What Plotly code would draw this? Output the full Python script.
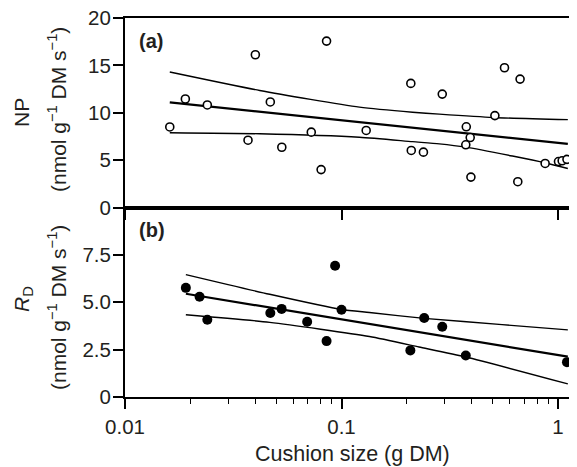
import plotly.graph_objects as go

# ---- data ----
np_x = [0.0161, 0.0190, 0.0240, 0.0370, 0.0400, 0.0469, 0.0530, 0.0725, 0.0805, 0.0853,
        0.130, 0.209, 0.210, 0.239, 0.292, 0.377, 0.393, 0.375, 0.396, 0.511,
        0.566, 0.652, 0.668, 0.872, 1.005, 1.045, 1.100]
np_y = [8.5, 11.45, 10.82, 7.1, 16.12, 11.14, 6.36, 7.95, 4.0, 17.56,
        8.13, 13.1, 6.02, 5.84, 11.97, 8.52, 7.38, 6.62, 3.21, 9.70,
        14.75, 2.72, 13.55, 4.65, 4.85, 4.93, 5.08]

rd_x = [0.0191, 0.0221, 0.0240, 0.0469, 0.0529, 0.0694, 0.0853, 0.0934, 0.100,
        0.208, 0.241, 0.292, 0.375, 1.10]
rd_y = [5.76, 5.29, 4.08, 4.43, 4.65, 3.97, 2.95, 6.93, 4.6,
        2.46, 4.17, 3.71, 2.19, 1.84]

np_fit_x = [0.0161, 1.11]
np_fit_y = [11.1, 6.72]
np_up_x = [0.0161, 0.0419, 0.121, 0.213, 0.283, 0.5, 1.11]
np_up_y = [14.3, 12.35, 10.59, 10.05, 9.85, 9.5, 9.27]
np_lo_x = [0.0161, 0.0419, 0.121, 0.213, 0.283, 0.375, 0.616, 0.877, 1.11]
np_lo_y = [7.89, 7.78, 7.42, 6.95, 6.72, 6.37, 5.43, 4.7, 4.12]

rd_fit_x = [0.0191, 1.11]
rd_fit_y = [5.45, 2.13]
rd_up_x = [0.0191, 0.0466, 0.1, 0.1346, 0.241, 0.552, 1.11]
rd_up_y = [6.46, 5.42, 4.62, 4.46, 4.15, 3.82, 3.54]
rd_lo_x = [0.0191, 0.0466, 0.1346, 0.228, 0.375, 1.11]
rd_lo_y = [4.34, 3.94, 3.19, 2.64, 2.11, 0.69]

x_ticks = [0.01, 0.1, 1]
x_ticktext = ["0.01", "0.1", "1"]
x_minor = [0.02, 0.03, 0.04, 0.05, 0.06, 0.07, 0.08, 0.09,
           0.2, 0.3, 0.4, 0.5, 0.6, 0.7, 0.8, 0.9]
np_ticks = [0, 5, 10, 15, 20]
rd_ticks = [0, 2.5, 5, 7.5]
rd_ticktext = ["0", "2.5", "5.0", "7.5"]

INK = "#231f20"
FONT = "Liberation Sans, Arial, sans-serif"
TICK_SIZE = 20.5

fig = go.Figure()

line_thin = dict(color="black", width=1.4)
line_thick = dict(color="black", width=2.2)

# top panel (NP)
for xs, ys, ln in [(np_up_x, np_up_y, line_thin), (np_lo_x, np_lo_y, line_thin),
                   (np_fit_x, np_fit_y, line_thick)]:
    fig.add_trace(go.Scatter(x=xs, y=ys, mode="lines", line=dict(ln, shape="spline", smoothing=0.6),
                             xaxis="x2", yaxis="y2", showlegend=False, hoverinfo="skip"))
fig.add_trace(go.Scatter(x=np_x, y=np_y, mode="markers", xaxis="x2", yaxis="y2",
                         marker=dict(symbol="circle", size=8, color="white",
                                     line=dict(color="black", width=1.6)),
                         showlegend=False, cliponaxis=False))

# bottom panel (RD)
for xs, ys, ln in [(rd_up_x, rd_up_y, line_thin), (rd_lo_x, rd_lo_y, line_thin),
                   (rd_fit_x, rd_fit_y, line_thick)]:
    fig.add_trace(go.Scatter(x=xs, y=ys, mode="lines", line=dict(ln, shape="spline", smoothing=0.6),
                             xaxis="x", yaxis="y", showlegend=False, hoverinfo="skip"))
fig.add_trace(go.Scatter(x=rd_x, y=rd_y, mode="markers", xaxis="x", yaxis="y",
                         marker=dict(symbol="circle", size=10, color="black",
                                     line=dict(color="black", width=0)),
                         showlegend=False, cliponaxis=False))

# the page body adds an 8 px margin, so the figure is drawn 8 px smaller
OFF = 8
W, H = 577 - OFF, 467 - OFF
L, R, T = 125 - OFF, 0, 18 - OFF
B = H - (397 - OFF)
pw = W - L - R
ph = H - T - B


def px_x(p):
    return (p - OFF - L) / pw


def px_y(p):
    return 1 - (p - OFF - T) / ph


common_x = dict(type="log", range=[-2, 0.0877], showgrid=False, zeroline=False,
                showline=True, linecolor="black", linewidth=2, mirror=True,
                ticks="outside", ticklen=10, tickwidth=1.6, tickcolor="black",
                tickvals=x_ticks, automargin=False, ticklabeloverflow="allow")
common_y = dict(showgrid=False, zeroline=False, showline=True, linecolor="black",
                linewidth=2, ticks="outside", ticklen=10, tickwidth=1.6,
                tickcolor="black", tickfont=dict(size=TICK_SIZE, color=INK, family=FONT),
                automargin=False, ticklabeloverflow="allow", ticklabelstandoff=-2)

fig.update_layout(
    width=W, height=H,
    margin=dict(l=L, r=R, t=T, b=B, autoexpand=False),
    paper_bgcolor="white", plot_bgcolor="white",
    font=dict(family=FONT, color=INK, size=20),
    xaxis=dict(common_x, anchor="y", domain=[0, 1], ticktext=x_ticktext,
               tickfont=dict(size=TICK_SIZE, color=INK, family=FONT),
               minor=dict(tickvals=x_minor, ticks="outside", ticklen=5,
                          tickwidth=1.4, tickcolor="black")),
    xaxis2=dict(common_x, anchor="y2", matches="x", showticklabels=False),
    yaxis=dict(common_y, domain=[0, 0.5], range=[0, 10], tickvals=rd_ticks,
               ticktext=rd_ticktext),
    yaxis2=dict(common_y, domain=[0.5, 1], range=[0, 20], tickvals=np_ticks),
)

ann = [
    dict(text="Cushion size (g DM)", x=px_x(352), y=px_y(454), textangle=0, size=21.5),
    dict(text="NP", x=px_x(21), y=px_y(113), textangle=-90, size=21),
    dict(text="(nmol g<sup>−1</sup> DM s<sup>−1</sup>)", x=px_x(57), y=px_y(110), textangle=-90, size=21),
    dict(text="<i>R</i><sub>D</sub>", x=px_x(23), y=px_y(299), textangle=-90, size=21),
    dict(text="(nmol g<sup>−1</sup> DM s<sup>−1</sup>)", x=px_x(57), y=px_y(308), textangle=-90, size=21),
]
for a in ann:
    fig.add_annotation(text=a["text"], xref="paper", yref="paper", x=a["x"], y=a["y"],
                       xanchor="center", yanchor="middle", textangle=a["textangle"],
                       showarrow=False, font=dict(size=a["size"], color=INK, family=FONT))

for txt, cy in [("<b>(a)</b>", 40.5), ("<b>(b)</b>", 229.5)]:
    fig.add_annotation(text=txt, xref="paper", yref="paper", x=px_x(137), y=px_y(cy),
                       xanchor="left", yanchor="middle", showarrow=False,
                       font=dict(size=20, color=INK, family=FONT))

fig.write_html("out.html")
